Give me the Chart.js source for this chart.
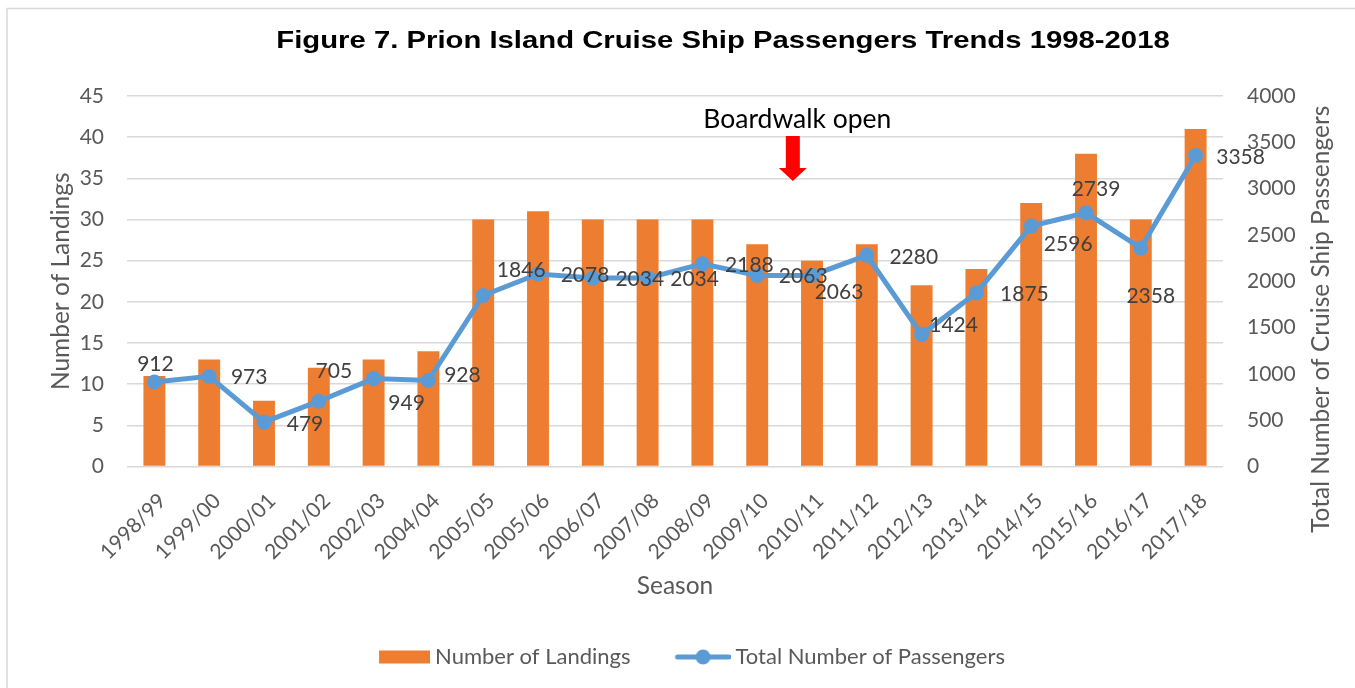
<!DOCTYPE html>
<html><head><meta charset="utf-8">
<script src="https://cdn.jsdelivr.net/npm/chart.js@4"></script>
<style>html,body{margin:0;padding:0;background:#fff;overflow:hidden}canvas{display:block}</style>
</head><body>
<canvas id="c" width="1355" height="688"></canvas>
<script>
// ---------- data ----------
const seasons = ['1998/99','1999/00','2000/01','2001/02','2002/03','2004/04','2005/05','2005/06','2006/07','2007/08','2008/09','2009/10','2010/11','2011/12','2012/13','2013/14','2014/15','2015/16','2016/17','2017/18'];
const landings = [11,13,8,12,13,14,30,31,30,30,30,27,25,27,22,24,32,38,30,41];
const passengers = [912,973,479,705,949,928,1846,2078,2034,2034,2188,2063,2063,2280,1424,1875,2596,2739,2358,3358];
const landingsAxis = {min: 0, max: 45, step: 5};
const passengersAxis = {min: 0, max: 4000, step: 500};
const chartTitle = 'Figure 7. Prion Island Cruise Ship Passengers Trends 1998-2018';
const seriesNames = ['Number of Landings', 'Total Number of Passengers'];
const axisTitles = {x: 'Season', left: 'Number of Landings', right: 'Total Number of Cruise Ship Passengers'};
const annotationText = 'Boardwalk open';

// ---------- styles ----------
const ORANGE = '#ED7D31', BLUE = '#5B9BD5', GRID = '#D9D9D9', AXISTXT = '#595959', LABELTXT = '#404040';
const FONT = 'Lato';
// data-label offsets in pixels (dx, dy) from each point
const labelOffsets = [[1,-18],[40,1],[41,2],[15,-30],[33,25],[34,-5],[38,-25],[47,1],[47,1],[47,1],[47,1],[46,1],[27,17],[47,2],[32,-9],[48,1],[37,18],[10,-24],[10,48],[45,2]];
// annotation placement (category position, right-axis values)
const annot = {cat: 11.65, tip: 3083, headBase: 3224, top: 3569, textBase: 3655};

function legendImg(kind){
  const c = document.createElement('canvas'); c.width = 64; c.height = 18;
  const g = c.getContext('2d');
  if (kind === 'bar') { g.fillStyle = ORANGE; g.fillRect(13, 2.5, 51, 13); }
  else {
    g.strokeStyle = BLUE; g.lineWidth = 5; g.lineCap = 'round';
    g.beginPath(); g.moveTo(11, 9); g.lineTo(62, 9); g.stroke();
    g.fillStyle = BLUE; g.beginPath(); g.arc(36.5, 9, 7.5, 0, Math.PI*2); g.fill();
  }
  return c;
}
const legendImgs = [legendImg('bar'), legendImg('line')];

const framePlugin = {
  id: 'frame',
  beforeDraw(chart){
    const ctx = chart.ctx; ctx.save();
    ctx.fillStyle = '#fff'; ctx.fillRect(0,0,chart.width,chart.height);
    ctx.strokeStyle = GRID; ctx.lineWidth = 1.5;
    ctx.strokeRect(7, 8.5, chart.width + 40, chart.height + 40);
    ctx.restore();
  }
};
const titlePlugin = {
  id: 'figTitle',
  afterDraw(chart){
    const ctx = chart.ctx; ctx.save();
    ctx.save();
    ctx.translate((chart.chartArea.left + chart.chartArea.right)/2 + 48, 48);
    ctx.scale(1.22, 1);
    ctx.font = 'bold 24px "Liberation Sans", Arial, sans-serif';
    ctx.fillStyle = '#000'; ctx.textAlign = 'center'; ctx.textBaseline = 'alphabetic';
    ctx.fillText(chartTitle, 0, 0);
    ctx.restore();
    // right axis title, reading bottom-to-top
    const y1 = chart.scales.y1;
    ctx.translate(y1.right - 34, (chart.chartArea.top + chart.chartArea.bottom)/2 + 38);
    ctx.rotate(-Math.PI/2);
    ctx.font = '24.5px ' + FONT; ctx.fillStyle = AXISTXT; ctx.textAlign = 'center'; ctx.textBaseline = 'middle';
    ctx.fillText(axisTitles.right, 0, 0);
    ctx.restore();
  }
};
const labelPlugin = {
  id: 'pointLabels',
  afterDatasetsDraw(chart){
    const ctx = chart.ctx; ctx.save();
    ctx.font = '21px ' + FONT; ctx.fillStyle = LABELTXT;
    ctx.textAlign = 'center'; ctx.textBaseline = 'middle';
    const meta = chart.getDatasetMeta(1);
    meta.data.forEach((pt, i) => {
      const o = labelOffsets[i] || [0,-20];
      ctx.fillText(String(passengers[i]), pt.x + o[0], pt.y + o[1]);
    });
    // annotation
    const xs = chart.scales.x, ys = chart.scales.y1;
    const i0 = Math.floor(annot.cat), f = annot.cat - i0;
    const ax = xs.getPixelForValue(i0) + (xs.getPixelForValue(i0+1) - xs.getPixelForValue(i0)) * f;
    const tip = ys.getPixelForValue(annot.tip), hb = ys.getPixelForValue(annot.headBase), top = ys.getPixelForValue(annot.top);
    ctx.fillStyle = '#FF0000';
    ctx.beginPath();
    ctx.moveTo(ax-7, top); ctx.lineTo(ax+7, top); ctx.lineTo(ax+7, hb); ctx.lineTo(ax+14, hb);
    ctx.lineTo(ax, tip); ctx.lineTo(ax-14, hb); ctx.lineTo(ax-7, hb); ctx.closePath(); ctx.fill();
    ctx.fillStyle = '#000'; ctx.font = '26.5px ' + FONT; ctx.textBaseline = 'alphabetic';
    ctx.fillText(annotationText, ax + 4.5, ys.getPixelForValue(annot.textBase));
    ctx.restore();
  }
};
const legendShift = {
  id: 'legendShift',
  afterLayout(chart){ if (chart.legend) { chart.legend.left += 11; chart.legend.right += 11; } }
};

new Chart(document.getElementById('c'), {
  data: {
    labels: seasons,
    datasets: [
      {type: 'bar', label: seriesNames[0], data: landings, yAxisID: 'y', backgroundColor: ORANGE,
       categoryPercentage: 0.8, barPercentage: 0.5, order: 2},
      {type: 'line', label: seriesNames[1], data: passengers, yAxisID: 'y1', borderColor: BLUE, backgroundColor: BLUE,
       borderWidth: 5, pointRadius: 7.5, pointHoverRadius: 7.5, pointBorderWidth: 0, pointBackgroundColor: BLUE,
       tension: 0, order: 1}
    ]
  },
  options: {
    responsive: false, animation: false,
    layout: {padding: {top: 96, left: 0, right: 0, bottom: 10}},
    plugins: {
      title: {display: false}, tooltip: {enabled: false},
      legend: {
        position: 'bottom',
        labels: {
          usePointStyle: true, pointStyleWidth: 52, padding: 42, color: AXISTXT,
          font: {family: FONT, size: 22},
          sort: (a, b) => a.datasetIndex - b.datasetIndex,
          generateLabels(chart){
            const items = Chart.defaults.plugins.legend.labels.generateLabels(chart);
            items.forEach(it => { it.pointStyle = legendImgs[it.datasetIndex]; });
            return items;
          }
        }
      }
    },
    scales: {
      x: {
        grid: {display: false}, border: {display: false},
        ticks: {color: AXISTXT, font: {family: FONT, size: 21}, minRotation: 45, maxRotation: 45, autoSkip: false, padding: 14, labelOffset: 8},
        title: {display: true, text: axisTitles.x, color: AXISTXT, font: {family: FONT, size: 24.5}, padding: {top: 0, bottom: 3}},
        afterFit(s){ s.height = 137.5; }
      },
      y: {
        position: 'left', min: landingsAxis.min, max: landingsAxis.max,
        ticks: {stepSize: landingsAxis.step, color: AXISTXT, font: {family: FONT, size: 21}, padding: 23},
        grid: {color: GRID, lineWidth: 1.5, drawTicks: false}, border: {display: false},
        title: {display: true, text: axisTitles.left, color: AXISTXT, font: {family: FONT, size: 24.5}, padding: {top: 46, bottom: 0}},
        afterFit(s){ s.width = 127; }
      },
      y1: {
        position: 'right', min: passengersAxis.min, max: passengersAxis.max,
        ticks: {stepSize: passengersAxis.step, color: AXISTXT, font: {family: FONT, size: 21}, padding: 24, callback: v => String(v)},
        grid: {display: false, drawTicks: false}, border: {display: false},
        afterFit(s){ s.width = 132; }
      }
    }
  },
  plugins: [framePlugin, titlePlugin, labelPlugin, legendShift]
});
</script>
</body></html>
